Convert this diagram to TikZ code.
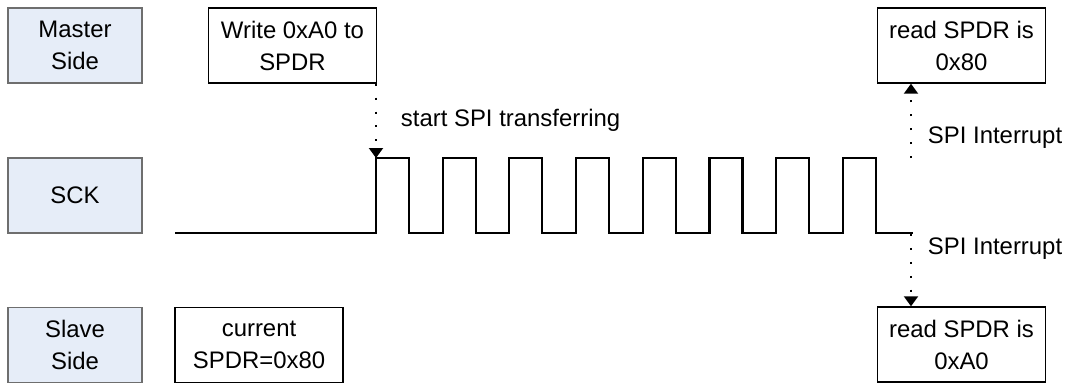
\documentclass[tikz,border=0pt]{standalone}
\usepackage{fontspec}
\setmainfont{Liberation Sans}
\usetikzlibrary{positioning,calc,arrows.meta}
\definecolor{sidefill}{RGB}{230,237,248}
\definecolor{sideline}{RGB}{110,110,110}
\tikzset{
    sidebox/.style={draw=sideline, fill=sidefill, line width=1pt, minimum width=3.35cm, minimum height=1.875cm, align=center},
    notebox/.style={draw=black, line width=1pt, minimum width=4.2cm, minimum height=1.875cm, align=center},
    dotarrow/.style={line width=1.4pt, dash pattern=on 1.4pt off 8.5pt, -{Triangle[width=0.35cm,length=0.25cm]}},
    clk/.style={line width=1.5pt, line join=miter}
}
\begin{document}
\begin{tikzpicture}[x=0.025cm, y=-0.025cm, font=\fontsize{17}{22.8}\selectfont]
    \useasboundingbox (0,0) rectangle (1066,383);
    % row labels
    \node[sidebox] (master) at (75,45.5) {Master\\Side};
    \node[sidebox] (sck) at (75,195.5) {SCK};
    \node[sidebox] (slave) at (75,345) {Slave\\Side};
    % events
    \node[notebox] (write) at (292.5,45.5) {Write 0xA0 to\\SPDR};
    \node[notebox] (current) at (259,345) {current\\SPDR=0x80};
    \node[notebox] (readm) at (961.5,45.5) {read SPDR is\\0x80};
    \node[notebox] (reads) at (961.5,344.5) {read SPDR is\\0xA0};
    % clock
    \draw[clk] (175,233) \foreach \k in {0,...,7} {
        -- ({376+66.7*\k},233) -- ({376+66.7*\k},158) -- ({409+66.7*\k},158) -- ({409+66.7*\k},233)} -- (913,233);
    \coordinate (rise) at (376,158);
    \coordinate (irqm) at (911,158);
    \coordinate (irqs) at (911,234);
    % transfer and interrupts
    \draw[dotarrow] (write.south east -| rise) -- (rise);
    \draw[dotarrow] (irqm) -- (irqm |- readm.south);
    \draw[dotarrow] (irqs) -- (irqs |- reads.north);
    \node[anchor=west] (start) at (396,120) {start SPI transferring};
    \node[anchor=west] (intm) at (923,138) {SPI Interrupt};
    \node[anchor=west] (ints) at (923,249) {SPI Interrupt};
\end{tikzpicture}
\end{document}
